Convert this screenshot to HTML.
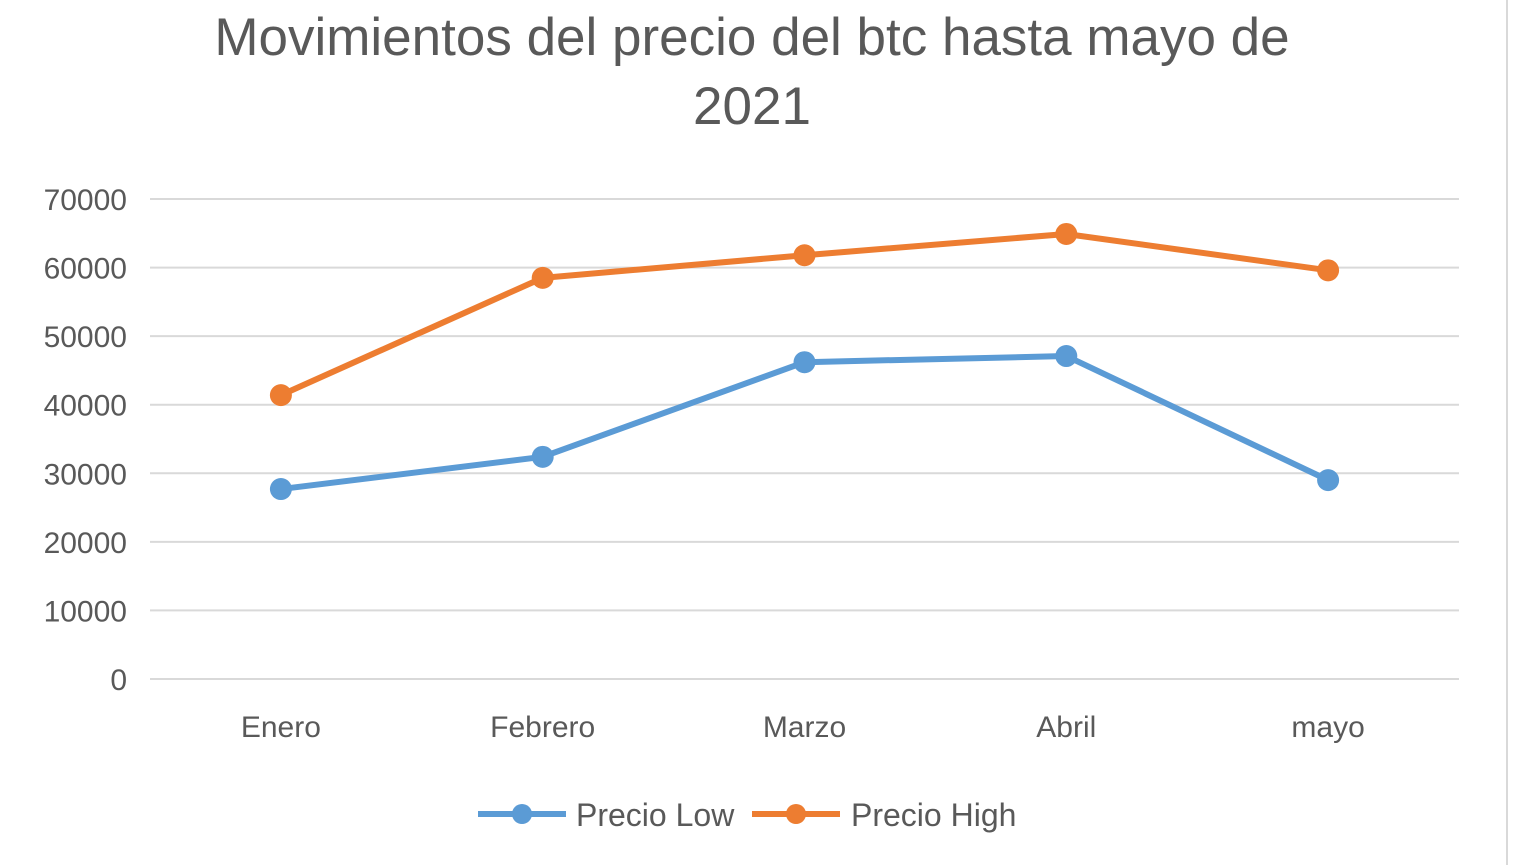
<!DOCTYPE html>
<html><head><meta charset="utf-8"><style>
html,body{margin:0;padding:0;background:#fff;}
svg{display:block;font-family:"Liberation Sans",sans-serif;}
</style></head><body>
<svg width="1513" height="865">
<rect x="0" y="0" width="1513" height="865" fill="#fff"/>
<line x1="1507" y1="0" x2="1507" y2="865" stroke="#d9d9d9" stroke-width="2"/>
<text x="752" y="55" text-anchor="middle" font-size="53" fill="#595959">Movimientos del precio del btc hasta mayo de</text>
<text x="752" y="124" text-anchor="middle" font-size="53" fill="#595959">2021</text>
<g id="grid"></g><g id="yt"></g><g id="xt"></g><g id="series"></g>
<g>
<line x1="478" y1="814" x2="566" y2="814" stroke="#5b9bd5" stroke-width="6"/>
<circle cx="522" cy="814" r="10" fill="#5b9bd5"/>
<text x="576" y="826" font-size="32" fill="#595959">Precio Low</text>
<line x1="752" y1="814" x2="840" y2="814" stroke="#ed7d31" stroke-width="6"/>
<circle cx="796" cy="814" r="10" fill="#ed7d31"/>
<text x="851" y="826" font-size="32" fill="#595959">Precio High</text>
</g>
</svg>
<script>
const categories=["Enero","Febrero","Marzo","Abril","mayo"];
const lowValues=[27700,32400,46200,47100,29000];
const highValues=[41400,58500,61800,64900,59600];
const yTicks=[0,10000,20000,30000,40000,50000,60000,70000];
const NS="http://www.w3.org/2000/svg";
const plotLeft=150,plotRight=1459,plotTop=199,plotBottom=679,yMax=70000;
const yScale=v=>plotBottom-(v/yMax)*(plotBottom-plotTop);
const step=(plotRight-plotLeft)/categories.length;
const xScale=i=>plotLeft+step*(i+0.5);
function mk(t,a,p){const e=document.createElementNS(NS,t);for(const k in a)e.setAttribute(k,a[k]);p.appendChild(e);return e;}
const grid=document.getElementById('grid'),yt=document.getElementById('yt'),xt=document.getElementById('xt'),ser=document.getElementById('series');
yTicks.forEach(v=>{
 const l=mk('line',{x1:plotLeft,x2:plotRight,y1:yScale(v),y2:yScale(v),stroke:'#d9d9d9','stroke-width':2},grid);
 
 
 const t=mk('text',{x:127,y:yScale(v)+11,'text-anchor':'end','font-size':30,fill:'#595959'},yt);
 t.textContent=v;
 
 
});
categories.forEach((c,i)=>{
 const t=mk('text',{x:xScale(i),y:737,'text-anchor':'middle','font-size':30,fill:'#595959'},xt);
 t.textContent=c;
 
 
});
function series(vals,color,name){
 const p=mk('polyline',{points:vals.map((v,i)=>xScale(i)+','+yScale(v)).join(' '),fill:'none',stroke:color,'stroke-width':6,'stroke-linejoin':'round'},ser);
 
 
 vals.forEach((v,i)=>{
  const c=mk('circle',{cx:xScale(i),cy:yScale(v),r:11,fill:color},ser);
  
  
 });
}
series(lowValues,'#5b9bd5','precio-low');
series(highValues,'#ed7d31','precio-high');
</script>
</body></html>
